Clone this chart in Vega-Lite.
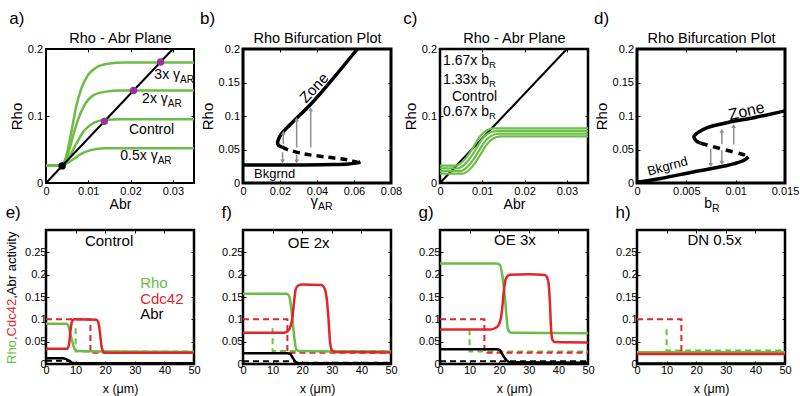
{
"$schema": "https://vega.github.io/schema/vega-lite/v6.json",
"background": "white",
"padding": {"left": 4, "top": 8, "right": 0, "bottom": 0},
"columns": 4,
"bounds": "flush",
"spacing": {"row": 47, "column": 49},
"resolve": {"scale": {"color": "independent", "shape": "independent"}},
"config": {
 "font": "Liberation Sans",
 "view": {"stroke": "black", "strokeWidth": 2.5},
 "axis": {"grid": false, "domain": false, "labelFontSize": 11, "labelColor": "black", "labelFlush": false, "labelOverlap": false, "tickColor": "black", "tickSize": -3, "tickWidth": 1, "titleFontWeight": "normal", "titleColor": "black", "titleFont": "Liberation Sans", "labelFont": "Liberation Sans"},
 "title": {"fontWeight": "normal", "fontSize": 17, "anchor": "start", "frame": "bounds", "color": "black", "font": "Liberation Sans"},
 "text": {"font": "Liberation Sans", "color": "black"}
},
"datasets": {
 "nullc": [{"x":0,"y":0},{"x":0.03,"y":0.2}],
 "a": [
  {"s":"3x","i":0,"x":0,"y":0.026},{"s":"3x","i":1,"x":0.0037,"y":0.026},{"s":"3x","i":2,"x":0.0047,"y":0.0385},{"s":"3x","i":3,"x":0.0059,"y":0.073},{"s":"3x","i":4,"x":0.0071,"y":0.113},{"s":"3x","i":5,"x":0.0083,"y":0.14},{"s":"3x","i":6,"x":0.0098,"y":0.16},{"s":"3x","i":7,"x":0.0118,"y":0.172},{"s":"3x","i":8,"x":0.0146,"y":0.178},{"s":"3x","i":9,"x":0.0185,"y":0.18},{"s":"3x","i":10,"x":0.035,"y":0.18},
  {"s":"2x","i":0,"x":0,"y":0.026},{"s":"2x","i":1,"x":0.0037,"y":0.026},{"s":"2x","i":2,"x":0.0051,"y":0.041},{"s":"2x","i":3,"x":0.0063,"y":0.068},{"s":"2x","i":4,"x":0.0075,"y":0.093},{"s":"2x","i":5,"x":0.009,"y":0.115},{"s":"2x","i":6,"x":0.011,"y":0.13},{"s":"2x","i":7,"x":0.0138,"y":0.136},{"s":"2x","i":8,"x":0.0177,"y":0.138},{"s":"2x","i":9,"x":0.035,"y":0.138},
  {"s":"ctl","i":0,"x":0,"y":0.026},{"s":"ctl","i":1,"x":0.0037,"y":0.026},{"s":"ctl","i":2,"x":0.0055,"y":0.0385},{"s":"ctl","i":3,"x":0.0071,"y":0.058},{"s":"ctl","i":4,"x":0.009,"y":0.078},{"s":"ctl","i":5,"x":0.0114,"y":0.09},{"s":"ctl","i":6,"x":0.0138,"y":0.094},{"s":"ctl","i":7,"x":0.0177,"y":0.095},{"s":"ctl","i":8,"x":0.035,"y":0.095},
  {"s":"half","i":0,"x":0,"y":0.026},{"s":"half","i":1,"x":0.0037,"y":0.026},{"s":"half","i":2,"x":0.006,"y":0.0336},{"s":"half","i":3,"x":0.0083,"y":0.0435},{"s":"half","i":4,"x":0.0106,"y":0.049},{"s":"half","i":5,"x":0.0138,"y":0.052},{"s":"half","i":6,"x":0.035,"y":0.052}
 ],
 "a_pts": [{"k":"fp","x":0.0271,"y":0.1807},{"k":"fp","x":0.0207,"y":0.138},{"k":"fp","x":0.0138,"y":0.092},{"k":"bg","x":0.0038,"y":0.0255}],
 "a_txt": [{"m":"3x γ","sub":"AR","x":0.0317,"y":0.161},{"m":"2x γ","sub":"AR","x":0.0288,"y":0.125},{"m":"Control","sub":"","x":0.0303,"y":0.079},{"m":"0.5x γ","sub":"AR","x":0.0264,"y":0.041}],
 "b": [
  {"s":"up","i":0,"x":0.0618,"y":0.2},{"s":"up","i":1,"x":0.049,"y":0.157},{"s":"up","i":2,"x":0.0366,"y":0.1175},{"s":"up","i":3,"x":0.0258,"y":0.088},{"s":"up","i":4,"x":0.0207,"y":0.073},{"s":"up","i":5,"x":0.019,"y":0.064},{"s":"up","i":6,"x":0.0187,"y":0.059},{"s":"up","i":7,"x":0.0195,"y":0.0555},{"s":"up","i":8,"x":0.021,"y":0.054},
  {"s":"mid","i":0,"x":0.021,"y":0.054},{"s":"mid","i":1,"x":0.0231,"y":0.0509},{"s":"mid","i":2,"x":0.033,"y":0.0435},{"s":"mid","i":3,"x":0.0456,"y":0.0385},{"s":"mid","i":4,"x":0.0564,"y":0.0346},{"s":"mid","i":5,"x":0.0618,"y":0.031},
  {"s":"low","i":0,"x":0,"y":0.027},{"s":"low","i":1,"x":0.03,"y":0.027},{"s":"low","i":2,"x":0.049,"y":0.0275},{"s":"low","i":3,"x":0.057,"y":0.0285},{"s":"low","i":4,"x":0.0618,"y":0.03},{"s":"low","i":5,"x":0.0635,"y":0.0315}
 ],
 "b_arr": [{"x":0.0218,"y0":0.058,"y1":0.075,"dir":"up"},{"x":0.029,"y0":0.053,"y1":0.095,"dir":"up"},{"x":0.0366,"y0":0.053,"y1":0.11,"dir":"up"},{"x":0.0214,"y0":0.046,"y1":0.032,"dir":"down"},{"x":0.029,"y0":0.0425,"y1":0.032,"dir":"down"}],
 "c": [
  {"s":"r167","i":0,"x":0,"y":0.026},{"s":"r167","i":1,"x":0.0037,"y":0.026},{"s":"r167","i":2,"x":0.0052,"y":0.031},{"s":"r167","i":3,"x":0.0067,"y":0.042},{"s":"r167","i":4,"x":0.0082,"y":0.057},{"s":"r167","i":5,"x":0.0094,"y":0.069},{"s":"r167","i":6,"x":0.0109,"y":0.078},{"s":"r167","i":7,"x":0.0127,"y":0.0815},{"s":"r167","i":8,"x":0.0152,"y":0.0815},{"s":"r167","i":9,"x":0.035,"y":0.0815},
  {"s":"r133","i":0,"x":0,"y":0.022},{"s":"r133","i":1,"x":0.0042,"y":0.022},{"s":"r133","i":2,"x":0.0057,"y":0.027},{"s":"r133","i":3,"x":0.0072,"y":0.038},{"s":"r133","i":4,"x":0.0087,"y":0.053},{"s":"r133","i":5,"x":0.0099,"y":0.065},{"s":"r133","i":6,"x":0.0114,"y":0.074},{"s":"r133","i":7,"x":0.0132,"y":0.0775},{"s":"r133","i":8,"x":0.0157,"y":0.0775},{"s":"r133","i":9,"x":0.035,"y":0.0775},
  {"s":"ctl","i":0,"x":0,"y":0.018},{"s":"ctl","i":1,"x":0.0048,"y":0.018},{"s":"ctl","i":2,"x":0.0063,"y":0.023},{"s":"ctl","i":3,"x":0.0078,"y":0.034},{"s":"ctl","i":4,"x":0.0093,"y":0.049},{"s":"ctl","i":5,"x":0.0105,"y":0.061},{"s":"ctl","i":6,"x":0.012,"y":0.07},{"s":"ctl","i":7,"x":0.0138,"y":0.0735},{"s":"ctl","i":8,"x":0.0163,"y":0.0735},{"s":"ctl","i":9,"x":0.035,"y":0.0735},
  {"s":"r067","i":0,"x":0,"y":0.014},{"s":"r067","i":1,"x":0.0053,"y":0.014},{"s":"r067","i":2,"x":0.0068,"y":0.019},{"s":"r067","i":3,"x":0.0083,"y":0.03},{"s":"r067","i":4,"x":0.0098,"y":0.045},{"s":"r067","i":5,"x":0.011,"y":0.057},{"s":"r067","i":6,"x":0.0125,"y":0.066},{"s":"r067","i":7,"x":0.0143,"y":0.0695},{"s":"r067","i":8,"x":0.0168,"y":0.0695},{"s":"r067","i":9,"x":0.035,"y":0.0695}
 ],
 "c_txt": [{"m":"1.67x b","sub":"R","x":0.0116,"y":0.1817},{"m":"1.33x b","sub":"R","x":0.0116,"y":0.1536},{"m":"Control","sub":"","x":0.0135,"y":0.129},{"m":"0.67x b","sub":"R","x":0.0116,"y":0.1067}],
 "d": [
  {"s":"low","i":0,"x":0,"y":0.001},{"s":"low","i":1,"x":0.0024,"y":0.0068},{"s":"low","i":2,"x":0.0058,"y":0.0168},{"s":"low","i":3,"x":0.0086,"y":0.0245},{"s":"low","i":4,"x":0.0099,"y":0.029},{"s":"low","i":5,"x":0.0108,"y":0.0336},{"s":"low","i":6,"x":0.0113,"y":0.039},
  {"s":"up","i":0,"x":0.015,"y":0.1077},{"s":"up","i":1,"x":0.01195,"y":0.0978},{"s":"up","i":2,"x":0.00923,"y":0.0904},{"s":"up","i":3,"x":0.0072,"y":0.083},{"s":"up","i":4,"x":0.0062,"y":0.0756},{"s":"up","i":5,"x":0.00577,"y":0.069},{"s":"up","i":6,"x":0.006,"y":0.0632},{"s":"up","i":7,"x":0.00645,"y":0.0593},
  {"s":"mid","i":0,"x":0.00645,"y":0.0593},{"s":"mid","i":1,"x":0.00736,"y":0.0558},{"s":"mid","i":2,"x":0.00855,"y":0.0509},{"s":"mid","i":3,"x":0.0099,"y":0.0459},{"s":"mid","i":4,"x":0.01076,"y":0.0425},{"s":"mid","i":5,"x":0.0113,"y":0.039}
 ],
 "d_arr": [{"x":0.0086,"y0":0.058,"y1":0.078,"dir":"up"},{"x":0.0098,"y0":0.0573,"y1":0.085,"dir":"up"},{"x":0.00747,"y0":0.0509,"y1":0.027,"dir":"down"},{"x":0.0086,"y0":0.049,"y1":0.03,"dir":"down"}],
 "e": [
  {"s":"Rho","d":"solid","i":0,"x":0,"y":0.09},{"s":"Rho","d":"solid","i":1,"x":6.8,"y":0.09},{"s":"Rho","d":"solid","i":2,"x":7.5,"y":0.087},{"s":"Rho","d":"solid","i":3,"x":8,"y":0.073},{"s":"Rho","d":"solid","i":4,"x":8.9,"y":0.05},{"s":"Rho","d":"solid","i":5,"x":9.7,"y":0.033},{"s":"Rho","d":"solid","i":6,"x":10.8,"y":0.029},{"s":"Rho","d":"solid","i":7,"x":20,"y":0.028},{"s":"Rho","d":"solid","i":8,"x":50,"y":0.027},
  {"s":"Cdc42","d":"solid","i":0,"x":0,"y":0.034},{"s":"Cdc42","d":"solid","i":1,"x":7.2,"y":0.034},{"s":"Cdc42","d":"solid","i":2,"x":7.8,"y":0.045},{"s":"Cdc42","d":"solid","i":3,"x":8.2,"y":0.07},{"s":"Cdc42","d":"solid","i":4,"x":8.7,"y":0.093},{"s":"Cdc42","d":"solid","i":5,"x":9.5,"y":0.1},{"s":"Cdc42","d":"solid","i":6,"x":17,"y":0.099},{"s":"Cdc42","d":"solid","i":7,"x":17.8,"y":0.09},{"s":"Cdc42","d":"solid","i":8,"x":18.4,"y":0.06},{"s":"Cdc42","d":"solid","i":9,"x":18.9,"y":0.035},{"s":"Cdc42","d":"solid","i":10,"x":19.6,"y":0.026},{"s":"Cdc42","d":"solid","i":11,"x":25,"y":0.025},{"s":"Cdc42","d":"solid","i":12,"x":50,"y":0.025},
  {"s":"Abr","d":"solid","i":0,"x":0,"y":0.013},{"s":"Abr","d":"solid","i":1,"x":5.5,"y":0.013},{"s":"Abr","d":"solid","i":2,"x":6.8,"y":0.011},{"s":"Abr","d":"solid","i":3,"x":8,"y":0.006},{"s":"Abr","d":"solid","i":4,"x":9.2,"y":0.002},{"s":"Abr","d":"solid","i":5,"x":12,"y":0.0015},{"s":"Abr","d":"solid","i":6,"x":50,"y":0.0015},
  {"s":"Rho","d":"dash","i":0,"x":10,"y":0.08},{"s":"Rho","d":"dash","i":1,"x":10,"y":0.028},{"s":"Rho","d":"dash","i":2,"x":50,"y":0.028},
  {"s":"Cdc42","d":"dash","i":0,"x":0,"y":0.1},{"s":"Cdc42","d":"dash","i":1,"x":15,"y":0.1},{"s":"Cdc42","d":"dash","i":2,"x":15,"y":0.025},{"s":"Cdc42","d":"dash","i":3,"x":50,"y":0.025},
  {"s":"Abr","d":"dash","i":0,"x":0,"y":0.007},{"s":"Abr","d":"dash","i":1,"x":8,"y":0.007},{"s":"Abr","d":"dash","i":2,"x":9,"y":0.003}
 ],
 "f": [
  {"s":"Rho","d":"solid","i":0,"x":0,"y":0.157},{"s":"Rho","d":"solid","i":1,"x":14.8,"y":0.157},{"s":"Rho","d":"solid","i":2,"x":15.6,"y":0.152},{"s":"Rho","d":"solid","i":3,"x":16.1,"y":0.135},{"s":"Rho","d":"solid","i":4,"x":17,"y":0.081},{"s":"Rho","d":"solid","i":5,"x":17.5,"y":0.05},{"s":"Rho","d":"solid","i":6,"x":18,"y":0.033},{"s":"Rho","d":"solid","i":7,"x":19,"y":0.029},{"s":"Rho","d":"solid","i":8,"x":30,"y":0.028},{"s":"Rho","d":"solid","i":9,"x":50,"y":0.028},
  {"s":"Cdc42","d":"solid","i":0,"x":0,"y":0.07},{"s":"Cdc42","d":"solid","i":1,"x":14,"y":0.07},{"s":"Cdc42","d":"solid","i":2,"x":15.2,"y":0.074},{"s":"Cdc42","d":"solid","i":3,"x":16.1,"y":0.085},{"s":"Cdc42","d":"solid","i":4,"x":16.7,"y":0.104},{"s":"Cdc42","d":"solid","i":5,"x":17.3,"y":0.142},{"s":"Cdc42","d":"solid","i":6,"x":17.8,"y":0.167},{"s":"Cdc42","d":"solid","i":7,"x":18.7,"y":0.176},{"s":"Cdc42","d":"solid","i":8,"x":20,"y":0.178},{"s":"Cdc42","d":"solid","i":9,"x":26.5,"y":0.177},{"s":"Cdc42","d":"solid","i":10,"x":27.5,"y":0.17},{"s":"Cdc42","d":"solid","i":11,"x":28.4,"y":0.14},{"s":"Cdc42","d":"solid","i":12,"x":29,"y":0.09},{"s":"Cdc42","d":"solid","i":13,"x":29.4,"y":0.05},{"s":"Cdc42","d":"solid","i":14,"x":30,"y":0.031},{"s":"Cdc42","d":"solid","i":15,"x":31,"y":0.027},{"s":"Cdc42","d":"solid","i":16,"x":50,"y":0.026},
  {"s":"Abr","d":"solid","i":0,"x":0,"y":0.024},{"s":"Abr","d":"solid","i":1,"x":15,"y":0.024},{"s":"Abr","d":"solid","i":2,"x":16,"y":0.022},{"s":"Abr","d":"solid","i":3,"x":17,"y":0.012},{"s":"Abr","d":"solid","i":4,"x":18,"y":0.003},{"s":"Abr","d":"solid","i":5,"x":19,"y":0.0015},{"s":"Abr","d":"solid","i":6,"x":50,"y":0.0015},
  {"s":"Rho","d":"dash","i":0,"x":10,"y":0.08},{"s":"Rho","d":"dash","i":1,"x":10,"y":0.029},{"s":"Rho","d":"dash","i":2,"x":50,"y":0.029},
  {"s":"Cdc42","d":"dash","i":0,"x":0,"y":0.1},{"s":"Cdc42","d":"dash","i":1,"x":15,"y":0.1},{"s":"Cdc42","d":"dash","i":2,"x":15,"y":0.025},{"s":"Cdc42","d":"dash","i":3,"x":50,"y":0.025},
  {"s":"Abr","d":"dash","i":0,"x":0,"y":0.006},{"s":"Abr","d":"dash","i":1,"x":17.5,"y":0.006},{"s":"Abr","d":"dash","i":2,"x":18.5,"y":0.003},{"s":"Abr","d":"dash","i":3,"x":50,"y":0.003}
 ],
 "g": [
  {"s":"Rho","d":"solid","i":0,"x":0,"y":0.225},{"s":"Rho","d":"solid","i":1,"x":19,"y":0.225},{"s":"Rho","d":"solid","i":2,"x":20.2,"y":0.222},{"s":"Rho","d":"solid","i":3,"x":21.1,"y":0.196},{"s":"Rho","d":"solid","i":4,"x":21.9,"y":0.15},{"s":"Rho","d":"solid","i":5,"x":22.5,"y":0.104},{"s":"Rho","d":"solid","i":6,"x":23,"y":0.077},{"s":"Rho","d":"solid","i":7,"x":24,"y":0.07},{"s":"Rho","d":"solid","i":8,"x":50,"y":0.069},
  {"s":"Cdc42","d":"solid","i":0,"x":0,"y":0.077},{"s":"Cdc42","d":"solid","i":1,"x":17,"y":0.077},{"s":"Cdc42","d":"solid","i":2,"x":18.5,"y":0.08},{"s":"Cdc42","d":"solid","i":3,"x":19.7,"y":0.086},{"s":"Cdc42","d":"solid","i":4,"x":20.8,"y":0.112},{"s":"Cdc42","d":"solid","i":5,"x":21.6,"y":0.165},{"s":"Cdc42","d":"solid","i":6,"x":22.2,"y":0.19},{"s":"Cdc42","d":"solid","i":7,"x":23.6,"y":0.2},{"s":"Cdc42","d":"solid","i":8,"x":30,"y":0.201},{"s":"Cdc42","d":"solid","i":9,"x":35.4,"y":0.199},{"s":"Cdc42","d":"solid","i":10,"x":36.5,"y":0.188},{"s":"Cdc42","d":"solid","i":11,"x":37.1,"y":0.142},{"s":"Cdc42","d":"solid","i":12,"x":37.5,"y":0.081},{"s":"Cdc42","d":"solid","i":13,"x":38,"y":0.054},{"s":"Cdc42","d":"solid","i":14,"x":38.8,"y":0.049},{"s":"Cdc42","d":"solid","i":15,"x":50,"y":0.048},
  {"s":"Abr","d":"solid","i":0,"x":0,"y":0.033},{"s":"Abr","d":"solid","i":1,"x":19,"y":0.033},{"s":"Abr","d":"solid","i":2,"x":20.2,"y":0.031},{"s":"Abr","d":"solid","i":3,"x":21.3,"y":0.019},{"s":"Abr","d":"solid","i":4,"x":22.5,"y":0.008},{"s":"Abr","d":"solid","i":5,"x":23.6,"y":0.004},{"s":"Abr","d":"solid","i":6,"x":50,"y":0.003},
  {"s":"Rho","d":"dash","i":0,"x":10,"y":0.078},{"s":"Rho","d":"dash","i":1,"x":10,"y":0.028},{"s":"Rho","d":"dash","i":2,"x":50,"y":0.028},
  {"s":"Cdc42","d":"dash","i":0,"x":0,"y":0.1},{"s":"Cdc42","d":"dash","i":1,"x":15,"y":0.1},{"s":"Cdc42","d":"dash","i":2,"x":15,"y":0.025},{"s":"Cdc42","d":"dash","i":3,"x":50,"y":0.025},
  {"s":"Abr","d":"dash","i":0,"x":0,"y":0.006},{"s":"Abr","d":"dash","i":1,"x":50,"y":0.006}
 ],
 "h": [
  {"s":"Rho","d":"solid","i":0,"x":0,"y":0.0265},{"s":"Rho","d":"solid","i":1,"x":50,"y":0.0265},
  {"s":"Cdc42","d":"solid","i":0,"x":0,"y":0.0225},{"s":"Cdc42","d":"solid","i":1,"x":50,"y":0.0225},
  {"s":"Abr","d":"solid","i":0,"x":0,"y":0.001},{"s":"Abr","d":"solid","i":1,"x":50,"y":0.001},
  {"s":"Rho","d":"dash","i":0,"x":10,"y":0.078},{"s":"Rho","d":"dash","i":1,"x":10,"y":0.03},{"s":"Rho","d":"dash","i":2,"x":50,"y":0.03},
  {"s":"Cdc42","d":"dash","i":0,"x":0,"y":0.1},{"s":"Cdc42","d":"dash","i":1,"x":15,"y":0.1},{"s":"Cdc42","d":"dash","i":2,"x":15,"y":0.025}
 ],
 "e_leg": [{"s":"Rho","t":"Rho","x":31.8,"y":0.182},{"s":"Cdc42","t":"Cdc42","x":31.8,"y":0.146},{"s":"Abr","t":"Abr","x":31.8,"y":0.1115}],
 "e_ytl": [{"s":"Rho","t":"Rho","y":0},{"s":"Cdc42","t":",Cdc42","y":0.0536},{"s":"Abr","t":",Abr activity","y":0.146}]
},
"concat": [
 {
  "width": 148, "height": 134,
  "title": {"text": "a)", "offset": 3},
  "view": {"stroke": "black", "strokeWidth": 2},
  "resolve": {"axis": {"x": "independent", "y": "independent"}},
  "layer": [
   {"data": {"name": "a"}, "mark": {"type": "line", "color": "#6abd45", "strokeWidth": 2.5, "interpolate": "monotone"},
    "encoding": {
     "x": {"field": "x", "type": "quantitative", "scale": {"domain": [0, 0.035], "nice": false}, "axis": {"orient": "bottom", "values": [0, 0.01, 0.02, 0.03], "format": ".3~g", "title": "Abr", "titleFontSize": 14, "labelPadding": 5, "titlePadding": 1}},
     "y": {"field": "y", "type": "quantitative", "scale": {"domain": [0, 0.2], "nice": false}, "axis": {"orient": "left", "values": [0, 0.1, 0.2], "format": ".3~g", "title": "Rho", "titleFontSize": 15, "labelPadding": 6.5, "titlePadding": 3}},
     "detail": {"field": "s"}, "order": {"field": "i"}}},
   {"data": {"name": "nullc"}, "mark": {"type": "line", "color": "black", "strokeWidth": 2},
    "encoding": {
     "x": {"field": "x", "type": "quantitative", "axis": {"orient": "top", "values": [0, 0.01, 0.02, 0.03], "labels": false, "title": "Rho - Abr Plane", "titleFontSize": 14.5, "titlePadding": 3}},
     "y": {"field": "y", "type": "quantitative", "axis": {"orient": "right", "values": [0, 0.1, 0.2], "labels": false, "title": null}}}},
   {"data": {"name": "a_pts"}, "mark": {"type": "circle", "size": 55, "opacity": 1},
    "encoding": {"x": {"field": "x", "type": "quantitative", "axis": null}, "y": {"field": "y", "type": "quantitative", "axis": null},
     "color": {"field": "k", "type": "nominal", "scale": {"domain": ["fp", "bg"], "range": ["#9d2f9e", "black"]}, "legend": null}}},
   {"data": {"name": "a_txt"}, "mark": {"type": "text", "align": "right", "baseline": "middle", "fontSize": 14},
    "encoding": {"x": {"field": "x", "type": "quantitative", "axis": null}, "y": {"field": "y", "type": "quantitative", "axis": null}, "text": {"field": "m"}}},
   {"data": {"name": "a_txt"}, "mark": {"type": "text", "align": "left", "baseline": "middle", "fontSize": 10, "dy": 5},
    "encoding": {"x": {"field": "x", "type": "quantitative", "axis": null}, "y": {"field": "y", "type": "quantitative", "axis": null}, "text": {"field": "sub"}}}
  ]
 },
 {
  "width": 148, "height": 134,
  "title": {"text": "b)", "offset": 3},
  "view": {"stroke": "black", "strokeWidth": 3},
  "resolve": {"axis": {"x": "independent", "y": "independent"}},
  "layer": [
   {"data": {"name": "b"}, "transform": [{"filter": "datum.s != 'mid'"}], "mark": {"type": "line", "color": "black", "strokeWidth": 3.5, "interpolate": "catmull-rom"},
    "encoding": {
     "x": {"field": "x", "type": "quantitative", "scale": {"domain": [0, 0.08], "nice": false}, "axis": {"orient": "bottom", "values": [0, 0.02, 0.04, 0.06, 0.08], "format": ".3~g", "title": null, "labelPadding": 5}},
     "y": {"field": "y", "type": "quantitative", "scale": {"domain": [0, 0.2], "nice": false}, "axis": {"orient": "left", "values": [0, 0.05, 0.1, 0.15, 0.2], "format": ".3~g", "title": "Rho", "titleFontSize": 15, "labelPadding": 6.5, "titlePadding": 3}},
     "detail": {"field": "s"}, "order": {"field": "i"}}},
   {"data": {"name": "b"}, "transform": [{"filter": "datum.s == 'mid'"}], "mark": {"type": "line", "color": "black", "strokeWidth": 3.5, "strokeDash": [7, 5], "interpolate": "catmull-rom"},
    "encoding": {
     "x": {"field": "x", "type": "quantitative", "axis": {"orient": "top", "values": [0, 0.02, 0.04, 0.06, 0.08], "labels": false, "title": "Rho Bifurcation Plot", "titleFontSize": 14.5, "titlePadding": 3}},
     "y": {"field": "y", "type": "quantitative", "axis": {"orient": "right", "values": [0, 0.05, 0.1, 0.15, 0.2], "labels": false, "title": null}},
     "order": {"field": "i"}}},
   {"data": {"name": "b_arr"}, "mark": {"type": "rule", "color": "#8f8f8f", "strokeWidth": 1.5},
    "encoding": {"x": {"field": "x", "type": "quantitative", "axis": null}, "y": {"field": "y0", "type": "quantitative", "axis": null}, "y2": {"field": "y1"}}},
   {"data": {"name": "b_arr"}, "mark": {"type": "point", "filled": true, "color": "#8f8f8f", "size": 22, "opacity": 1},
    "encoding": {"x": {"field": "x", "type": "quantitative", "axis": null}, "y": {"field": "y1", "type": "quantitative", "axis": null},
     "shape": {"field": "dir", "type": "nominal", "scale": {"domain": ["up", "down"], "range": ["triangle-up", "triangle-down"]}, "legend": null}}},
   {"data": {"values": [{}]}, "mark": {"type": "text", "text": "Zone", "angle": -47, "fontSize": 15, "align": "center", "baseline": "middle"},
    "encoding": {"x": {"datum": 0.0384, "type": "quantitative", "axis": null}, "y": {"datum": 0.142, "type": "quantitative", "axis": null}}},
   {"data": {"values": [{}]}, "mark": {"type": "text", "text": "Bkgrnd", "fontSize": 13, "align": "left", "baseline": "middle"},
    "encoding": {"x": {"datum": 0.006, "type": "quantitative", "axis": null}, "y": {"datum": 0.0138, "type": "quantitative", "axis": null}}},
   {"data": {"values": [{}]}, "mark": {"type": "text", "text": "γ", "fontSize": 15, "align": "right", "baseline": "alphabetic"},
    "encoding": {"x": {"datum": 0.0405, "type": "quantitative", "axis": null}, "y": {"datum": -0.0345, "type": "quantitative", "axis": null}}},
   {"data": {"values": [{}]}, "mark": {"type": "text", "text": "AR", "fontSize": 10.5, "align": "left", "baseline": "alphabetic", "dy": 4},
    "encoding": {"x": {"datum": 0.0405, "type": "quantitative", "axis": null}, "y": {"datum": -0.0345, "type": "quantitative", "axis": null}}}
  ]
 },
 {
  "width": 148, "height": 134,
  "title": {"text": "c)", "offset": 3},
  "view": {"stroke": "black", "strokeWidth": 2.5},
  "resolve": {"axis": {"x": "independent", "y": "independent"}},
  "layer": [
   {"data": {"name": "nullc"}, "mark": {"type": "line", "color": "black", "strokeWidth": 2},
    "encoding": {
     "x": {"field": "x", "type": "quantitative", "scale": {"domain": [0, 0.035], "nice": false}, "axis": {"orient": "bottom", "values": [0, 0.01, 0.02, 0.03], "format": ".3~g", "title": "Abr", "titleFontSize": 14, "labelPadding": 5, "titlePadding": 1}},
     "y": {"field": "y", "type": "quantitative", "scale": {"domain": [0, 0.2], "nice": false}, "axis": {"orient": "left", "values": [0, 0.1, 0.2], "format": ".3~g", "title": "Rho", "titleFontSize": 15, "labelPadding": 6.5, "titlePadding": 3}}}},
   {"data": {"name": "c"}, "mark": {"type": "line", "color": "#6abd45", "strokeWidth": 2.2, "interpolate": "monotone"},
    "encoding": {
     "x": {"field": "x", "type": "quantitative", "axis": {"orient": "top", "values": [0, 0.01, 0.02, 0.03], "labels": false, "title": "Rho - Abr Plane", "titleFontSize": 14.5, "titlePadding": 3}},
     "y": {"field": "y", "type": "quantitative", "axis": {"orient": "right", "values": [0, 0.1, 0.2], "labels": false, "title": null}},
     "detail": {"field": "s"}, "order": {"field": "i"}}},
   {"data": {"name": "c_txt"}, "mark": {"type": "text", "align": "right", "baseline": "middle", "fontSize": 14},
    "encoding": {"x": {"field": "x", "type": "quantitative", "axis": null}, "y": {"field": "y", "type": "quantitative", "axis": null}, "text": {"field": "m"}}},
   {"data": {"name": "c_txt"}, "mark": {"type": "text", "align": "left", "baseline": "middle", "fontSize": 9.5, "dy": 4},
    "encoding": {"x": {"field": "x", "type": "quantitative", "axis": null}, "y": {"field": "y", "type": "quantitative", "axis": null}, "text": {"field": "sub"}}}
  ]
 },
 {
  "width": 148, "height": 134,
  "title": {"text": "d)", "offset": 3},
  "view": {"stroke": "black", "strokeWidth": 3},
  "resolve": {"axis": {"x": "independent", "y": "independent"}},
  "layer": [
   {"data": {"name": "d"}, "transform": [{"filter": "datum.s != 'mid'"}], "mark": {"type": "line", "color": "black", "strokeWidth": 3.5, "interpolate": "catmull-rom"},
    "encoding": {
     "x": {"field": "x", "type": "quantitative", "scale": {"domain": [0, 0.015], "nice": false}, "axis": {"orient": "bottom", "values": [0, 0.005, 0.01, 0.015], "format": ".3~g", "title": null, "labelPadding": 5}},
     "y": {"field": "y", "type": "quantitative", "scale": {"domain": [0, 0.2], "nice": false}, "axis": {"orient": "left", "values": [0, 0.05, 0.1, 0.15, 0.2], "format": ".3~g", "title": "Rho", "titleFontSize": 15, "labelPadding": 6.5, "titlePadding": 3}},
     "detail": {"field": "s"}, "order": {"field": "i"}}},
   {"data": {"name": "d"}, "transform": [{"filter": "datum.s == 'mid'"}], "mark": {"type": "line", "color": "black", "strokeWidth": 3.5, "strokeDash": [7, 6], "interpolate": "catmull-rom"},
    "encoding": {
     "x": {"field": "x", "type": "quantitative", "axis": {"orient": "top", "values": [0, 0.005, 0.01, 0.015], "labels": false, "title": "Rho Bifurcation Plot", "titleFontSize": 14.5, "titlePadding": 3}},
     "y": {"field": "y", "type": "quantitative", "axis": {"orient": "right", "values": [0, 0.05, 0.1, 0.15, 0.2], "labels": false, "title": null}},
     "order": {"field": "i"}}},
   {"data": {"name": "d_arr"}, "mark": {"type": "rule", "color": "#8f8f8f", "strokeWidth": 1.5},
    "encoding": {"x": {"field": "x", "type": "quantitative", "axis": null}, "y": {"field": "y0", "type": "quantitative", "axis": null}, "y2": {"field": "y1"}}},
   {"data": {"name": "d_arr"}, "mark": {"type": "point", "filled": true, "color": "#8f8f8f", "size": 22, "opacity": 1},
    "encoding": {"x": {"field": "x", "type": "quantitative", "axis": null}, "y": {"field": "y1", "type": "quantitative", "axis": null},
     "shape": {"field": "dir", "type": "nominal", "scale": {"domain": ["up", "down"], "range": ["triangle-up", "triangle-down"]}, "legend": null}}},
   {"data": {"values": [{}]}, "mark": {"type": "text", "text": "Zone", "angle": -13, "fontSize": 16, "align": "center", "baseline": "middle"},
    "encoding": {"x": {"datum": 0.0111, "type": "quantitative", "axis": null}, "y": {"datum": 0.107, "type": "quantitative", "axis": null}}},
   {"data": {"values": [{}]}, "mark": {"type": "text", "text": "Bkgrnd", "angle": -15, "fontSize": 13, "align": "center", "baseline": "middle"},
    "encoding": {"x": {"datum": 0.0031, "type": "quantitative", "axis": null}, "y": {"datum": 0.0247, "type": "quantitative", "axis": null}}},
   {"data": {"values": [{}]}, "mark": {"type": "text", "text": "b", "fontSize": 14, "align": "right", "baseline": "alphabetic"},
    "encoding": {"x": {"datum": 0.0076, "type": "quantitative", "axis": null}, "y": {"datum": -0.0376, "type": "quantitative", "axis": null}}},
   {"data": {"values": [{}]}, "mark": {"type": "text", "text": "R", "fontSize": 10.5, "align": "left", "baseline": "alphabetic", "dy": 4},
    "encoding": {"x": {"datum": 0.0076, "type": "quantitative", "axis": null}, "y": {"datum": -0.0376, "type": "quantitative", "axis": null}}}
  ]
 },
 {
  "width": 148, "height": 134,
  "title": {"text": "e)", "offset": 8},
  "view": {"stroke": "black", "strokeWidth": 2.5},
  "resolve": {"axis": {"x": "independent", "y": "independent"}},
  "layer": [
   {"data": {"name": "e"}, "transform": [{"filter": "datum.d == 'dash'"}], "mark": {"type": "line", "strokeWidth": 2, "strokeDash": [6, 4]},
    "encoding": {
     "x": {"field": "x", "type": "quantitative", "scale": {"domain": [0, 50], "nice": false}, "axis": {"orient": "bottom", "values": [0, 10, 20, 30, 40, 50], "title": "x (μm)", "titleFontSize": 12.5, "labelPadding": 3.5, "titlePadding": 7}},
     "y": {"field": "y", "type": "quantitative", "scale": {"domain": [0, 0.3], "nice": false}, "axis": {"orient": "left", "values": [0, 0.05, 0.1, 0.15, 0.2, 0.25], "format": ".3~g", "title": null, "labelPadding": 3}},
     "color": {"field": "s", "type": "nominal", "scale": {"domain": ["Rho", "Cdc42", "Abr"], "range": ["#6abd45", "#e3242b", "black"]}, "legend": null},
     "order": {"field": "i"}}},
   {"data": {"name": "e"}, "transform": [{"filter": "datum.d == 'solid'"}], "mark": {"type": "line", "strokeWidth": 2.5, "interpolate": "monotone"},
    "encoding": {
     "x": {"field": "x", "type": "quantitative", "axis": {"orient": "top", "values": [0, 10, 20, 30, 40, 50], "labels": false, "title": null}},
     "y": {"field": "y", "type": "quantitative", "axis": {"orient": "right", "values": [0, 0.05, 0.1, 0.15, 0.2, 0.25], "labels": false, "title": null}},
     "color": {"field": "s", "type": "nominal", "scale": {"domain": ["Rho", "Cdc42", "Abr"], "range": ["#6abd45", "#e3242b", "black"]}, "legend": null},
     "order": {"field": "i"}}},
   {"data": {"values": [{}]}, "mark": {"type": "text", "text": "Control", "fontSize": 15, "align": "center", "baseline": "middle"},
    "encoding": {"x": {"datum": 21.3, "type": "quantitative", "axis": null}, "y": {"datum": 0.275, "type": "quantitative", "axis": null}}},
   {"data": {"name": "e_leg"}, "mark": {"type": "text", "align": "left", "baseline": "middle", "fontSize": 15},
    "encoding": {"x": {"field": "x", "type": "quantitative", "axis": null}, "y": {"field": "y", "type": "quantitative", "axis": null}, "text": {"field": "t"},
     "color": {"field": "s", "type": "nominal", "scale": {"domain": ["Rho", "Cdc42", "Abr"], "range": ["#6abd45", "#e3242b", "black"]}, "legend": null}}},
   {"data": {"name": "e_ytl"}, "mark": {"type": "text", "align": "left", "baseline": "middle", "fontSize": 13, "angle": 270},
    "encoding": {"x": {"datum": -11.6, "type": "quantitative", "axis": null}, "y": {"field": "y", "type": "quantitative", "axis": null}, "text": {"field": "t"},
     "color": {"field": "s", "type": "nominal", "scale": {"domain": ["Rho", "Cdc42", "Abr"], "range": ["#6abd45", "#e3242b", "black"]}, "legend": null}}}
  ]
 },
 {
  "width": 148, "height": 134,
  "title": {"text": "f)", "offset": 8},
  "view": {"stroke": "black", "strokeWidth": 2.5},
  "resolve": {"axis": {"x": "independent", "y": "independent"}},
  "layer": [
   {"data": {"name": "f"}, "transform": [{"filter": "datum.d == 'dash'"}], "mark": {"type": "line", "strokeWidth": 2, "strokeDash": [6, 4]},
    "encoding": {
     "x": {"field": "x", "type": "quantitative", "scale": {"domain": [0, 50], "nice": false}, "axis": {"orient": "bottom", "values": [0, 10, 20, 30, 40, 50], "title": "x (μm)", "titleFontSize": 12.5, "labelPadding": 3.5, "titlePadding": 7}},
     "y": {"field": "y", "type": "quantitative", "scale": {"domain": [0, 0.3], "nice": false}, "axis": {"orient": "left", "values": [0, 0.05, 0.1, 0.15, 0.2, 0.25], "format": ".3~g", "title": null, "labelPadding": 3}},
     "color": {"field": "s", "type": "nominal", "scale": {"domain": ["Rho", "Cdc42", "Abr"], "range": ["#6abd45", "#e3242b", "black"]}, "legend": null},
     "order": {"field": "i"}}},
   {"data": {"name": "f"}, "transform": [{"filter": "datum.d == 'solid'"}], "mark": {"type": "line", "strokeWidth": 2.5, "interpolate": "monotone"},
    "encoding": {
     "x": {"field": "x", "type": "quantitative", "axis": {"orient": "top", "values": [0, 10, 20, 30, 40, 50], "labels": false, "title": null}},
     "y": {"field": "y", "type": "quantitative", "axis": {"orient": "right", "values": [0, 0.05, 0.1, 0.15, 0.2, 0.25], "labels": false, "title": null}},
     "color": {"field": "s", "type": "nominal", "scale": {"domain": ["Rho", "Cdc42", "Abr"], "range": ["#6abd45", "#e3242b", "black"]}, "legend": null},
     "order": {"field": "i"}}},
   {"data": {"values": [{}]}, "mark": {"type": "text", "text": "OE 2x", "fontSize": 15, "align": "center", "baseline": "middle"},
    "encoding": {"x": {"datum": 22.2, "type": "quantitative", "axis": null}, "y": {"datum": 0.272, "type": "quantitative", "axis": null}}}
  ]
 },
 {
  "width": 148, "height": 134,
  "title": {"text": "g)", "offset": 8},
  "view": {"stroke": "black", "strokeWidth": 2.5},
  "resolve": {"axis": {"x": "independent", "y": "independent"}},
  "layer": [
   {"data": {"name": "g"}, "transform": [{"filter": "datum.d == 'dash'"}], "mark": {"type": "line", "strokeWidth": 2, "strokeDash": [6, 4]},
    "encoding": {
     "x": {"field": "x", "type": "quantitative", "scale": {"domain": [0, 50], "nice": false}, "axis": {"orient": "bottom", "values": [0, 10, 20, 30, 40, 50], "title": "x (μm)", "titleFontSize": 12.5, "labelPadding": 3.5, "titlePadding": 7}},
     "y": {"field": "y", "type": "quantitative", "scale": {"domain": [0, 0.3], "nice": false}, "axis": {"orient": "left", "values": [0, 0.05, 0.1, 0.15, 0.2, 0.25], "format": ".3~g", "title": null, "labelPadding": 3}},
     "color": {"field": "s", "type": "nominal", "scale": {"domain": ["Rho", "Cdc42", "Abr"], "range": ["#6abd45", "#e3242b", "black"]}, "legend": null},
     "order": {"field": "i"}}},
   {"data": {"name": "g"}, "transform": [{"filter": "datum.d == 'solid'"}], "mark": {"type": "line", "strokeWidth": 2.5, "interpolate": "monotone"},
    "encoding": {
     "x": {"field": "x", "type": "quantitative", "axis": {"orient": "top", "values": [0, 10, 20, 30, 40, 50], "labels": false, "title": null}},
     "y": {"field": "y", "type": "quantitative", "axis": {"orient": "right", "values": [0, 0.05, 0.1, 0.15, 0.2, 0.25], "labels": false, "title": null}},
     "color": {"field": "s", "type": "nominal", "scale": {"domain": ["Rho", "Cdc42", "Abr"], "range": ["#6abd45", "#e3242b", "black"]}, "legend": null},
     "order": {"field": "i"}}},
   {"data": {"values": [{}]}, "mark": {"type": "text", "text": "OE 3x", "fontSize": 15, "align": "center", "baseline": "middle"},
    "encoding": {"x": {"datum": 25.3, "type": "quantitative", "axis": null}, "y": {"datum": 0.277, "type": "quantitative", "axis": null}}}
  ]
 },
 {
  "width": 148, "height": 134,
  "title": {"text": "h)", "offset": 8},
  "view": {"stroke": "black", "strokeWidth": 2.5},
  "resolve": {"axis": {"x": "independent", "y": "independent"}},
  "layer": [
   {"data": {"name": "h"}, "transform": [{"filter": "datum.d == 'dash'"}], "mark": {"type": "line", "strokeWidth": 2, "strokeDash": [6, 4]},
    "encoding": {
     "x": {"field": "x", "type": "quantitative", "scale": {"domain": [0, 50], "nice": false}, "axis": {"orient": "bottom", "values": [0, 10, 20, 30, 40, 50], "title": "x (μm)", "titleFontSize": 12.5, "labelPadding": 3.5, "titlePadding": 7}},
     "y": {"field": "y", "type": "quantitative", "scale": {"domain": [0, 0.3], "nice": false}, "axis": {"orient": "left", "values": [0, 0.05, 0.1, 0.15, 0.2, 0.25], "format": ".3~g", "title": null, "labelPadding": 3}},
     "color": {"field": "s", "type": "nominal", "scale": {"domain": ["Rho", "Cdc42", "Abr"], "range": ["#6abd45", "#e3242b", "black"]}, "legend": null},
     "order": {"field": "i"}}},
   {"data": {"name": "h"}, "transform": [{"filter": "datum.d == 'solid'"}], "mark": {"type": "line", "strokeWidth": 2.5},
    "encoding": {
     "x": {"field": "x", "type": "quantitative", "axis": {"orient": "top", "values": [0, 10, 20, 30, 40, 50], "labels": false, "title": null}},
     "y": {"field": "y", "type": "quantitative", "axis": {"orient": "right", "values": [0, 0.05, 0.1, 0.15, 0.2, 0.25], "labels": false, "title": null}},
     "color": {"field": "s", "type": "nominal", "scale": {"domain": ["Rho", "Cdc42", "Abr"], "range": ["#6abd45", "#e3242b", "black"]}, "legend": null},
     "order": {"field": "i"}}},
   {"data": {"values": [{}]}, "mark": {"type": "text", "text": "DN 0.5x", "fontSize": 15, "align": "center", "baseline": "middle"},
    "encoding": {"x": {"datum": 26.2, "type": "quantitative", "axis": null}, "y": {"datum": 0.277, "type": "quantitative", "axis": null}}}
  ]
 }
]
}
